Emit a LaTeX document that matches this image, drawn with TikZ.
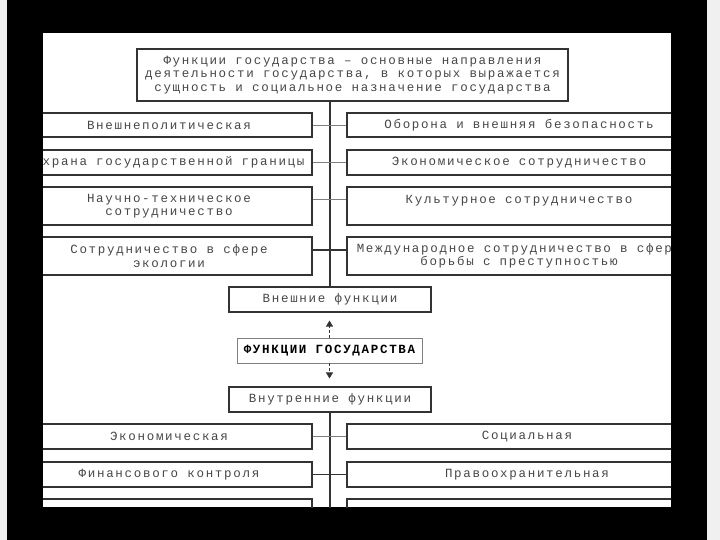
\documentclass[tikz,border=0pt]{standalone}
\usepackage{fontspec}
\newfontfamily\monofnt[LetterSpace=13.6]{Liberation Mono}
\usetikzlibrary{arrows.meta}
\definecolor{ink}{gray}{0.28}
\definecolor{frame}{gray}{0.2}
\tikzset{
  fbox/.style={draw=frame, line width=1.1pt, inner sep=0pt, align=center, text=ink,
    font=\monofnt\fontsize{12.5}{13.5}\selectfont},
  lbox/.style={fbox, minimum width=286pt},
  rbox/.style={fbox, minimum width=344pt},
  thin link/.style={draw=gray, line width=0.7pt},
  thick link/.style={draw=frame, line width=1.2pt},
  dirarrow/.style={draw=frame, dash pattern=on 3pt off 2pt, line width=0.9pt,
    -{Triangle[length=6pt,width=7pt]}, shorten >=8pt}
}
\begin{document}
\begin{tikzpicture}[x=1pt,y=-1pt]
\useasboundingbox (0,0) rectangle (720,540);
\fill[black] (0,0) rectangle (720,540);
\fill[white!94!black] (0,0) rectangle (7,540);
\fill[white!94!black] (707,0) rectangle (720,540);
\fill[white] (43,33) rectangle (671,507);

\begin{scope}
\clip (43,33) rectangle (671,507);

% definition
\node[fbox, minimum width=431pt, minimum height=52pt] (def) at (352.5,75)
  {Функции государства – основные направления\\деятельности государства, в которых выражается\\сущность и социальное назначение государства};

% external functions
\node[lbox, minimum height=24pt] (ext1) at (169,125) {Внешнеполитическая};
\node[rbox, minimum height=24pt] (ext2) at (519,125) {Оборона и внешняя безопасность};
\node[lbox, minimum height=25pt] (ext3) at (169,162.5) {Охрана государственной границы};
\node[rbox, minimum height=25pt] (ext4) at (519,162.5) {Экономическое сотрудничество};
\node[lbox, minimum height=38pt] (ext5) at (169,206) {Научно-техническое\\сотрудничество};
\node[rbox, minimum height=38pt] (ext6) at (519,206) {Культурное сотрудничество\\\mbox{}};
\node[lbox, minimum height=38pt] (ext7) at (169,256) {Сотрудничество в сфере\\экологии};
\node[rbox, minimum height=38pt] (ext8) at (519,256) {Международное сотрудничество в сфере\\борьбы с преступностью};

% middle column
\node[fbox, minimum width=202pt, minimum height=25pt] (outer) at (330,299.5) {Внешние функции};
\node[fbox, draw=gray, line width=0.7pt, text=black,
  font=\monofnt\bfseries\fontsize{12.5}{13.5}\selectfont,
  minimum width=185pt, minimum height=25pt] (state) at (329.5,350.5) {ФУНКЦИИ ГОСУДАРСТВА};
\node[fbox, minimum width=202pt, minimum height=25pt] (inner) at (330,399.5) {Внутренние функции};

% internal functions
\node[lbox, minimum height=25pt] (int1) at (169,436.5) {Экономическая};
\node[rbox, minimum width=360pt, minimum height=25pt] (int2) at (527,436.5) {Социальная};
\node[lbox, minimum height=25pt] (int3) at (169,474.5) {Финансового контроля};
\node[rbox, minimum width=360pt, minimum height=25pt] (int4) at (527,474.5) {Правоохранительная};
\node[lbox, minimum height=38pt] (int5) at (169,518) {};
\node[rbox, minimum width=360pt, minimum height=38pt] (int6) at (527,518) {};

% spine
\draw[thick link] (def.south -| outer.north) -- (outer.north);
\draw[thick link] (inner.south) -- (inner.south |- int6.south);

% links
\draw[thin link] (ext1) -- (ext2);
\draw[thin link] (ext3) -- (ext4);
\draw[thin link] ([yshift=7pt]ext5.east) -- ([yshift=7pt]ext6.west);
\draw[thick link] ([yshift=6pt]ext7.east) -- ([yshift=6pt]ext8.west);
\draw[thin link] (int1) -- (int2);
\draw[thick link] (int3) -- (int4);

% arrows
\draw[dirarrow] (state.north) -- (state.north |- outer.south);
\draw[dirarrow] (state.south) -- (state.south |- inner.north);
\end{scope}
\end{tikzpicture}
\end{document}
